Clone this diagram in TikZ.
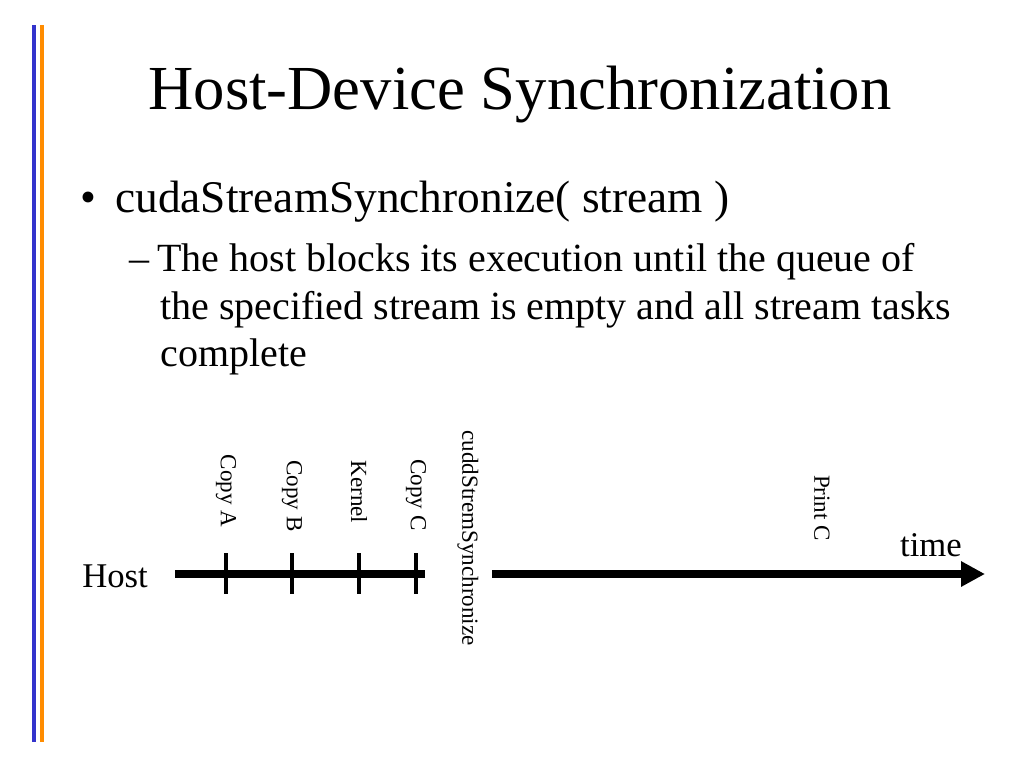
\documentclass[tikz,border=0pt]{standalone}
\usepackage{fontspec}
\setmainfont{Liberation Serif}
\usetikzlibrary{arrows.meta}
\begin{document}
\begin{tikzpicture}[x=0.75pt,y=-0.75pt,
  lab/.style={rotate=-90,font=\fontsize{17.3}{20}\selectfont,inner sep=0pt},
  tick/.style={line width=3pt},
  tl/.style={line width=6pt}]
\useasboundingbox (0,0) rectangle (1024,768);
\fill[blue!75!black!80] (32,25) rectangle (36,742);
\fill[orange!90!yellow] (40,25) rectangle (44,742);
\node (title) at (520,95) {\fontsize{47}{54}\selectfont Host-Device Synchronization};
\node[anchor=west,inner sep=0pt] (bul) at (80,202) {\fontsize{34}{40}\selectfont \textbullet};
\node[anchor=west,inner sep=0pt] (b1) at (115,202) {\fontsize{34}{40}\selectfont cudaStreamSynchronize( stream )};
\node[anchor=west,inner sep=0pt] (s1) at (129,262) {\fontsize{30}{36}\selectfont –\hspace{6pt}The host blocks its execution until the queue of};
\node[anchor=west,inner sep=0pt] (s2) at (160,310) {\fontsize{30}{36}\selectfont the specified stream is empty and all stream tasks};
\node[anchor=west,inner sep=0pt] (s3) at (160,357) {\fontsize{30}{36}\selectfont complete};
\coordinate (h0) at (175,574);
\coordinate (h1) at (425,574);
\coordinate (a0) at (492,574);
\coordinate (a1) at (985,574);
\draw[tl] (h0) -- (h1);
\draw[tl,-{Triangle[length=18pt,width=18pt]}] (a0) -- (a1);
\foreach \x/\n in {226/ta,292/tb,359/tk,416/tc}{
  \coordinate (\n u) at (\x,553); \coordinate (\n d) at (\x,594);
  \draw[tick] (\n u) -- (\n d);}
\node[lab] (la) at (226,491) {Copy A};
\node[lab] (lb) at (292,496) {Copy B};
\node[lab] (lk) at (359,492) {Kernel};
\node[lab] (lc) at (416,495) {Copy C};
\node[lab] (ls) at (468,538) {cuddStremSynchronize};
\node[lab] (lp) at (822,508) {Print C};
\node (host) at (115,576) {\fontsize{26}{30}\selectfont Host};
\node (time) at (931,545) {\fontsize{26}{30}\selectfont time};
\end{tikzpicture}
\end{document}
